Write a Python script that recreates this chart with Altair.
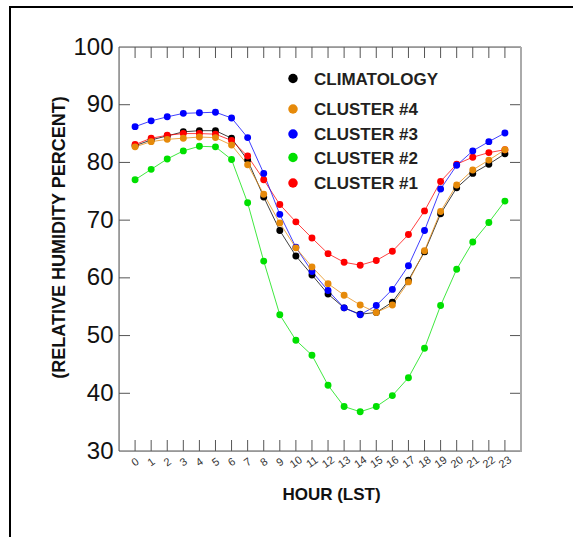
import altair as alt
import pandas as pd

# Hourly mean relative humidity (%) by local standard time
hours = list(range(24))
climatology = [82.9, 83.9, 84.6, 85.3, 85.5, 85.5, 84.2, 80.4, 74.0, 68.2, 63.8, 60.5,
               57.2, 54.8, 53.7, 54.0, 55.8, 59.6, 64.5, 71.1, 75.6, 78.1, 79.7, 81.5]
cluster4 = [82.7, 83.6, 84.0, 84.2, 84.4, 84.3, 83.0, 79.6, 74.5, 69.5, 65.2, 61.9,
            59.0, 57.0, 55.3, 54.0, 55.3, 59.3, 64.7, 71.5, 76.1, 78.7, 80.4, 82.2]
cluster3 = [86.2, 87.2, 87.9, 88.5, 88.6, 88.7, 87.7, 84.3, 78.1, 71.0, 65.3, 61.1,
            57.8, 54.8, 53.6, 55.2, 58.0, 62.1, 68.2, 75.4, 79.5, 82.0, 83.6, 85.1]
cluster2 = [77.0, 78.8, 80.6, 82.0, 82.8, 82.7, 80.5, 73.0, 62.9, 53.6, 49.2, 46.6,
            41.4, 37.7, 36.8, 37.7, 39.6, 42.7, 47.8, 55.2, 61.5, 66.2, 69.6, 73.3]
cluster1 = [83.1, 84.2, 84.7, 85.0, 85.0, 84.9, 83.8, 81.1, 77.0, 72.7, 69.7, 66.9,
            64.2, 62.7, 62.2, 63.0, 64.6, 67.5, 71.6, 76.7, 79.7, 80.9, 81.7, 82.2]

series_names = ["CLIMATOLOGY", "CLUSTER #4", "CLUSTER #3", "CLUSTER #2", "CLUSTER #1"]
series_colors = ["#000000", "#E68A0A", "#0000FF", "#00E000", "#FF0000"]
series_values = [climatology, cluster4, cluster3, cluster2, cluster1]
# drawing order: climatology at the bottom, cluster #4 on top
draw_rank = [0, 4, 3, 2, 1]

y_ticks = [30, 40, 50, 60, 70, 80, 90, 100]

rows = []
for name, vals, rank in zip(series_names, series_values, draw_rank):
    for h, v in zip(hours, vals):
        rows.append({"series": name, "hour": h, "rh": v, "rank": rank})
df = pd.DataFrame(rows).sort_values(["rank", "hour"])

W, H = 402, 404
FONT = "Liberation Sans"
TICK_COLOR = "#555555"
TICK_LEN = 11

x_scale = alt.Scale(domain=[-1, 24], nice=False, zero=False)
y_scale = alt.Scale(domain=[30, 100], nice=False, zero=False)
color_scale = alt.Scale(domain=series_names, range=series_colors)

x_axis = alt.Axis(
    values=hours, labelAngle=325, labelAlign="center", labelBaseline="middle",
    labelPadding=11, labelFontSize=11, labelFont=FONT, labelColor="#333333",
    labelOverlap=False, labelFlush=False, labelBound=False,
    tickSize=0, domain=False, grid=False,
    title="HOUR (LST)", titleFont=FONT, titleFontSize=17, titleFontWeight="bold",
    titleColor="#111111", titleX=212, titleY=43, titleBaseline="middle",
    titleAnchor="start", titleAlign="center",
)
y_axis = alt.Axis(
    values=y_ticks, labelFontSize=24, labelFont=FONT, labelColor="#111111",
    labelPadding=6, labelOverlap=False, labelFlush=False, labelBound=False,
    tickSize=0, domain=False, grid=False,
    title="(RELATIVE HUMIDITY PERCENT)", titleFont=FONT, titleFontSize=18,
    titleFontWeight="bold", titleColor="#111111", titleX=-60, titleY=190,
    titleBaseline="middle", titleAlign="center", titleAngle=270,
)

# one shared definition of each positional channel, so every layer agrees
X_HOUR = alt.X("hour:Q", scale=x_scale, axis=x_axis)
Y_RH = alt.Y("rh:Q", scale=y_scale, axis=y_axis)

base = alt.Chart(df)

lines = base.mark_line(strokeWidth=1, opacity=0.75).encode(
    x=X_HOUR, y=Y_RH,
    color=alt.Color("series:N", scale=color_scale, legend=None),
    detail="series:N",
    order="hour:Q",
)

points = base.mark_circle(size=48, opacity=1).encode(
    x=X_HOUR, y=Y_RH,
    color=alt.Color("series:N", scale=color_scale, legend=None),
    order="rank:Q",
)

# inward tick marks on all four sides
hour_df = pd.DataFrame({"hour": hours})
ytick_df = pd.DataFrame({"rh": y_ticks[1:-1]})
tick_style = dict(color=TICK_COLOR, strokeWidth=1)
ticks_bottom = alt.Chart(hour_df).mark_rule(**tick_style).encode(
    x=X_HOUR, y=alt.value(H), y2=alt.value(H - TICK_LEN))
ticks_top = alt.Chart(hour_df).mark_rule(**tick_style).encode(
    x=X_HOUR, y=alt.value(0), y2=alt.value(TICK_LEN))
ticks_left = alt.Chart(ytick_df).mark_rule(**tick_style).encode(
    y=Y_RH, x=alt.value(0), x2=alt.value(TICK_LEN))
ticks_right = alt.Chart(ytick_df).mark_rule(**tick_style).encode(
    y=Y_RH, x=alt.value(W - TICK_LEN), x2=alt.value(W))

# plot frame: dark on three sides, lighter on the right
frame = alt.Chart(hour_df.head(1))
frame_left = frame.mark_rule(color=TICK_COLOR, strokeWidth=1).encode(
    x=alt.value(0), y=alt.value(0), y2=alt.value(H))
frame_top = frame.mark_rule(color=TICK_COLOR, strokeWidth=1).encode(
    x=alt.value(0), x2=alt.value(W), y=alt.value(0))
frame_bottom = frame.mark_rule(color=TICK_COLOR, strokeWidth=1).encode(
    x=alt.value(0), x2=alt.value(W), y=alt.value(H))
frame_right = frame.mark_rule(color="#AAAAAA", strokeWidth=2).encode(
    x=alt.value(W), y=alt.value(0), y2=alt.value(H + 1))

# outer page border (top and left)
border_top = frame.mark_rule(color="#000000", strokeWidth=2).encode(
    x=alt.value(-110), x2=alt.value(460), y=alt.value(-40))
border_left = frame.mark_rule(color="#000000", strokeWidth=2).encode(
    x=alt.value(-109), y=alt.value(-41), y2=alt.value(495))

# legend entries
legend_rows = [31.5, 62, 87, 110.5, 136]
legend_layers = []
for name, col, ly in zip(series_names, series_colors, legend_rows):
    legend_layers.append(
        frame.mark_circle(size=90, opacity=1, color=col).encode(
            x=alt.value(174), y=alt.value(ly))
    )
    legend_layers.append(
        frame.mark_text(align="left", baseline="middle", font=FONT, fontSize=17,
                        fontWeight="bold", color="#231F20", dy=1).encode(
            x=alt.value(195), y=alt.value(ly), text=alt.value(name))
    )

chart = alt.layer(
    lines, frame_left, frame_top, frame_bottom,
    ticks_bottom, ticks_top, ticks_left, ticks_right,
    points, frame_right, border_top, border_left,
    *legend_layers,
).properties(
    width=W, height=H,
    autosize=alt.AutoSizeParams(type="none"),
    padding={"left": 119, "top": 47, "right": 52, "bottom": 86},
).configure_view(stroke=None).configure_axis(
    labelOverlap=False
).configure(background="white")

chart.save("out.html", embed_options={"renderer": "svg", "actions": False})
